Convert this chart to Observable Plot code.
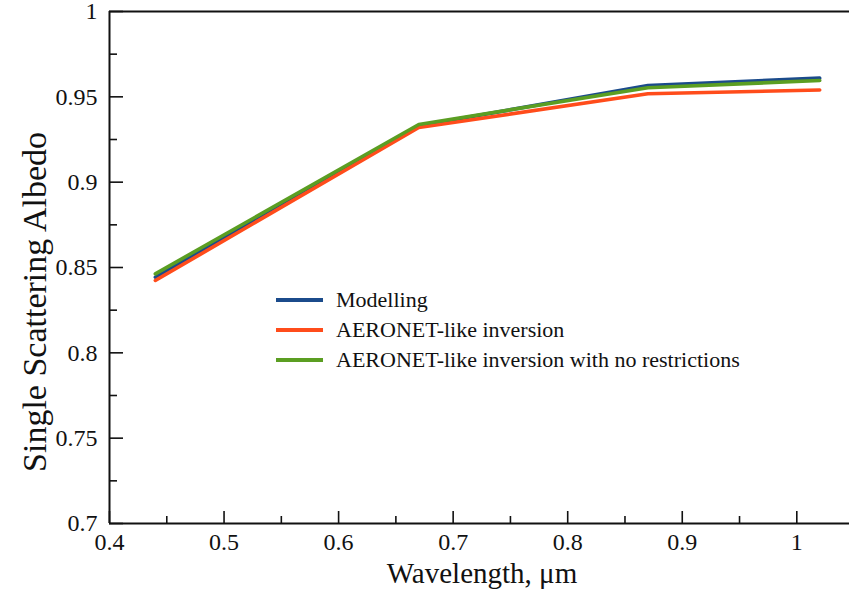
<!DOCTYPE html>
<html>
<head>
<meta charset="utf-8">
<script src="https://cdn.jsdelivr.net/npm/d3@7"></script>
<script src="https://cdn.jsdelivr.net/npm/@observablehq/plot@0.6"></script>
<style>
  body { margin: 0; background: #fff; }
  #wrap { position: relative; width: 849px; height: 594px; font-family: "Liberation Serif", "Times New Roman", serif; color: #111; }
  #legend { position: absolute; left: 276px; top: 285px; font-size: 22px; }
  #legend .row { display: flex; align-items: center; height: 30px; white-space: nowrap; }
  #legend .sw { display: inline-block; width: 47px; height: 4px; margin-right: 13px; }
  .title { position: absolute; white-space: nowrap; line-height: 1; }
  #xtitle { left: 482px; top: 559px; font-size: 29px; transform: translateX(-50%); }
  #ytitle { left: 35px; top: 302px; font-size: 34px; transform: translate(-50%, -50%) rotate(-90deg); }
</style>
</head>
<body>
<div id="wrap"></div>
<script>
// Single scattering albedo at the four AERONET wavelengths (µm)
const wavelengths = [0.44, 0.67, 0.87, 1.02];
const modelling = [0.8443, 0.9330, 0.9566, 0.9610];
const aeronetLike = [0.8424, 0.9320, 0.9518, 0.9540];
const aeronetNoRestrictions = [0.8463, 0.9338, 0.9553, 0.9596];

const seriesNames = ["Modelling", "AERONET-like inversion", "AERONET-like inversion with no restrictions"];
const seriesColors = ["#1b4b8b", "#ff4c1b", "#5b9e22"];

const xTicks = [0.4, 0.5, 0.6, 0.7, 0.8, 0.9, 1.0];
const xTickLabels = ["0.4", "0.5", "0.6", "0.7", "0.8", "0.9", "1"];
const xMinorTicks = [0.45, 0.55, 0.65, 0.75, 0.85, 0.95];
const yTicks = [0.7, 0.75, 0.8, 0.85, 0.9, 0.95, 1.0];
const yTickLabels = ["0.7", "0.75", "0.8", "0.85", "0.9", "0.95", "1"];
const yMinorTicks = [0.725, 0.775, 0.825, 0.875, 0.925, 0.975];

const xTitle = "Wavelength, μm";
const yTitle = "Single Scattering Albedo";

const seriesValues = [modelling, aeronetLike, aeronetNoRestrictions];
const rows = seriesValues.flatMap((vals, s) =>
  vals.map((v, i) => ({series: seriesNames[s], wavelength: wavelengths[i], ssa: v}))
);

// blue underneath, then red, then green on top
const lineMarks = seriesNames.map((name, s) =>
  Plot.line(rows.filter(d => d.series === name), {
    x: "wavelength", y: "ssa", stroke: seriesColors[s], strokeWidth: 3.6, strokeLinejoin: "round"
  })
);

const chart = Plot.plot({
  width: 849,
  height: 594,
  marginLeft: 109,
  marginRight: 0,
  marginTop: 11,
  marginBottom: 71,
  style: {fontFamily: "'Liberation Serif', 'Times New Roman', serif", fontSize: "24px", color: "#111", background: "#fff", overflow: "visible"},
  x: {domain: [0.4, 1.046]},
  y: {domain: [0.7, 1]},
  marks: [
    Plot.axisX(xTicks, {tickSize: 0, tickPadding: 9, tickFormat: d => xTickLabels[xTicks.indexOf(d)], label: null, fontSize: 24}),
    Plot.axisY(yTicks, {tickSize: 0, tickPadding: 12, tickFormat: d => yTickLabels[yTicks.indexOf(d)], label: null, fontSize: 24}),
    // inward tick marks
    Plot.ruleX(xTicks, {x: d => d, y1: 0.7, y2: 0.7, insetBottom: 12, stroke: "#111", strokeWidth: 1.6}),
    Plot.ruleX(xMinorTicks, {x: d => d, y1: 0.7, y2: 0.7, insetBottom: 7, stroke: "#111", strokeWidth: 1.6}),
    Plot.ruleY(yTicks, {y: d => d, x1: 0.4, x2: 0.4, insetRight: -14, stroke: "#111", strokeWidth: 1.6}),
    Plot.ruleY(yMinorTicks, {y: d => d, x1: 0.4, x2: 0.4, insetRight: -8, stroke: "#111", strokeWidth: 1.6}),
    // frame: top, bottom and left edges
    Plot.ruleY([1.0], {stroke: "#111", strokeWidth: 2}),
    Plot.ruleY([0.7], {stroke: "#111", strokeWidth: 2}),
    Plot.ruleX([0.4], {stroke: "#111", strokeWidth: 2}),
    ...lineMarks
  ]
});

const wrap = document.getElementById("wrap");
wrap.appendChild(chart);

const xt = document.createElement("div");
xt.className = "title"; xt.id = "xtitle"; xt.textContent = xTitle;
wrap.appendChild(xt);
const yt = document.createElement("div");
yt.className = "title"; yt.id = "ytitle"; yt.textContent = yTitle;
wrap.appendChild(yt);

const legend = document.createElement("div");
legend.id = "legend";
seriesNames.forEach((name, s) => {
  const row = document.createElement("div");
  row.className = "row";
  const sw = document.createElement("span");
  sw.className = "sw";
  sw.style.background = seriesColors[s];
  const label = document.createElement("span");
  label.textContent = name;
  row.appendChild(sw);
  row.appendChild(label);
  legend.appendChild(row);
});
wrap.appendChild(legend);
</script>
</body>
</html>
